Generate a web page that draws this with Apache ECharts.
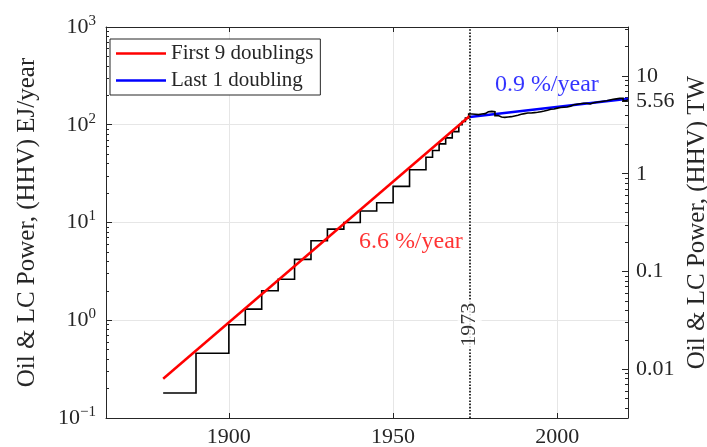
<!DOCTYPE html>
<html>
<head>
<meta charset="utf-8">
<script src="https://cdn.jsdelivr.net/npm/echarts@6/dist/echarts.min.js"></script>
<style>html,body{margin:0;padding:0;background:#fff}#c{width:707px;height:447px}</style>
</head>
<body>
<div id="c"></div>
<script>
// ---- data ----
const stepYears = [1880,1890,1900,1905,1910,1915,1920,1925,1930,1935,1940,1945,1950,1955,1960,1962,1964,1966,1968,1970,1971,1972,
  1973,1974,1975,1976,1977,1978,1979,1980,1981,1982,1983,1984,1985,1986,1987,1988,1989,1990,1991,1992,1993,1994,1995,1996,1997,1998,1999,
  2000,2001,2002,2003,2004,2005,2006,2007,2008,2009,2010,2011,2012,2013,2014,2015,2016,2017,2018,2019,2020,2021,2021.5];
const stepValues = [0.18,0.46,0.90,1.30,2.0,2.63,4.2,6.5,8.55,10.0,13.1,15.9,23.4,34.7,46.5,54.5,63.8,73.4,85,100,108,117,
  129,128,127,129,130,136,137,136,124,120,119,120,121,123,125,128,130,132,132,133,134,136,138,141,144,145,148,
  150,151,152,155,160,162,164,166,166,163,168,170,172,174,176,179,182,184,186,186,176,181,181];
const fitEarlyYears = [1880, 1973.3];
const fitEarlyValues = [0.252, 123];
const fitLateYears = [1973.3, 2021.5];
const fitLateValues = [120, 184];
const xTicks = [1900, 1950, 2000];
const leftTicks = [0.1, 1, 10, 100, 1000];
const rightTicks = [0.01, 0.1, 1, 5.56, 10];
const markYear = 1973.3;
const EJ_PER_TW = 31.536;

const F = 'Liberation Serif';
const AX = '#262626';
const zip = (a, b) => a.map((x, i) => [x, b[i]]);

const leftMinor = [];
[0.1, 1, 10, 100].forEach(d => { for (let k = 2; k <= 9; k++) leftMinor.push(+(d * k).toPrecision(3)); });
const rMin = 0.1 / EJ_PER_TW, rMax = 1000 / EJ_PER_TW;
const rightMinor = [];
[0.001, 0.01, 0.1, 1, 10].forEach(d => { for (let k = 2; k <= 9; k++) { const v = +(d * k).toPrecision(3); if (v > rMin && v < rMax) rightMinor.push(v); } });

function supLabel(v) {
  const e = Math.round(Math.log10(v));
  return '{b|10}{s|' + (e < 0 ? '\u2212' + (-e) : e) + '}';
}

const chart = echarts.init(document.getElementById('c'), null, { renderer: 'canvas' });
chart.setOption({
  animation: false,
  backgroundColor: '#fff',
  grid: { left: 106, right: 79, top: 27, bottom: 29, containLabel: false, outerBoundsMode: 'none' },
  legend: {
    data: ['First 9 doublings', 'Last 1 doubling'],
    orient: 'vertical', left: 110, top: 39,
    icon: 'rect', itemWidth: 50, itemHeight: 2.5, itemGap: 4,
    padding: [3, 7, 3, 6],
    backgroundColor: '#fff', borderColor: AX, borderWidth: 1,
    textStyle: { fontFamily: F, fontSize: 21, color: AX, lineHeight: 23 }
  },
  xAxis: [{
    type: 'value', min: 1862.6, max: 2021.5, position: 'bottom',
    axisLine: { lineStyle: { color: AX } },
    axisTick: { inside: true, length: 5, lineStyle: { color: AX }, customValues: xTicks },
    axisLabel: { customValues: xTicks, formatter: v => String(v), fontFamily: F, fontSize: 22, color: AX, margin: 8 },
    splitLine: { show: true, lineStyle: { color: '#e6e6e6' } }
  }, {
    type: 'value', min: 1862.6, max: 2021.5, position: 'top',
    axisLine: { lineStyle: { color: AX } },
    axisTick: { inside: true, length: 5, lineStyle: { color: AX }, customValues: xTicks },
    axisLabel: { show: false },
    splitLine: { show: false }
  }],
  yAxis: [{
    type: 'log', logBase: 10, min: 0.1, max: 1000, position: 'left',
    name: 'Oil & LC Power, (HHV) EJ/year', nameLocation: 'middle', nameGap: 66, nameRotate: 90,
    nameTextStyle: { fontFamily: F, fontSize: 25, color: AX },
    axisLine: { show: true, lineStyle: { color: AX } },
    axisTick: { inside: true, length: 6, lineStyle: { color: AX }, customValues: leftTicks },
    axisLabel: {
      customValues: leftTicks, formatter: supLabel, margin: 10,
      rich: {
        b: { fontFamily: F, fontSize: 22, color: AX },
        s: { fontFamily: F, fontSize: 15, color: AX, padding: [0, 0, 12, 0] }
      }
    },
    splitLine: { show: true, lineStyle: { color: '#e6e6e6' } }
  }, {
    type: 'log', logBase: 10, min: rMin, max: rMax, position: 'right',
    name: 'Oil & LC Power, (HHV) TW', nameLocation: 'middle', nameGap: 52, nameRotate: 90,
    nameTextStyle: { fontFamily: F, fontSize: 25, color: AX },
    axisLine: { show: true, lineStyle: { color: AX } },
    axisTick: { inside: true, length: 6, lineStyle: { color: AX }, customValues: rightTicks },
    axisLabel: { customValues: rightTicks, formatter: v => String(+v.toPrecision(3)), fontFamily: F, fontSize: 22, color: AX, margin: 8 },
    splitLine: { show: false }
  }, {
    type: 'log', logBase: 10, min: 0.1, max: 1000, position: 'left',
    axisLine: { show: false },
    axisTick: { inside: true, length: 3, lineStyle: { color: AX }, customValues: leftMinor },
    axisLabel: { show: false }, splitLine: { show: false }
  }, {
    type: 'log', logBase: 10, min: rMin, max: rMax, position: 'right',
    axisLine: { show: false },
    axisTick: { inside: true, length: 3, lineStyle: { color: AX }, customValues: rightMinor },
    axisLabel: { show: false }, splitLine: { show: false }
  }],
  series: [{
    name: 'Last 1 doubling', type: 'line', z: 2, symbol: 'none',
    data: zip(fitLateYears, fitLateValues),
    lineStyle: { color: '#0000ff', width: 2.5 }, itemStyle: { color: '#0000ff' }
  }, {
    name: 'data', type: 'line', step: 'end', z: 3, symbol: 'none',
    data: zip(stepYears, stepValues),
    lineStyle: { color: '#000', width: 1.6, join: 'miter' },
    markLine: {
      silent: true, symbol: 'none', label: { show: false },
      lineStyle: { color: '#000', type: 'dotted', width: 1.6 },
      data: [{ xAxis: markYear }]
    }
  }, {
    name: 'First 9 doublings', type: 'line', z: 4, symbol: 'none',
    data: zip(fitEarlyYears, fitEarlyValues),
    lineStyle: { color: '#ff0000', width: 2.5 }, itemStyle: { color: '#ff0000' }
  }, {
    name: 'labels', type: 'scatter', z: 6, symbolSize: 0,
    data: [
      { value: [markYear, 0.9], label: { show: true, formatter: '1973', rotate: 90, color: '#000', fontSize: 22, fontFamily: F, backgroundColor: '#fff', padding: [1, 2] } },
      { value: [1955.4, 6.3], label: { show: true, formatter: '6.6 %/year', color: '#ff0000', fontSize: 24, fontFamily: F } },
      { value: [1996.8, 256], label: { show: true, formatter: '0.9 %/year', color: '#0000ff', fontSize: 24, fontFamily: F } }
    ],
    label: { position: 'inside' }
  }]
});
</script>
</body>
</html>
